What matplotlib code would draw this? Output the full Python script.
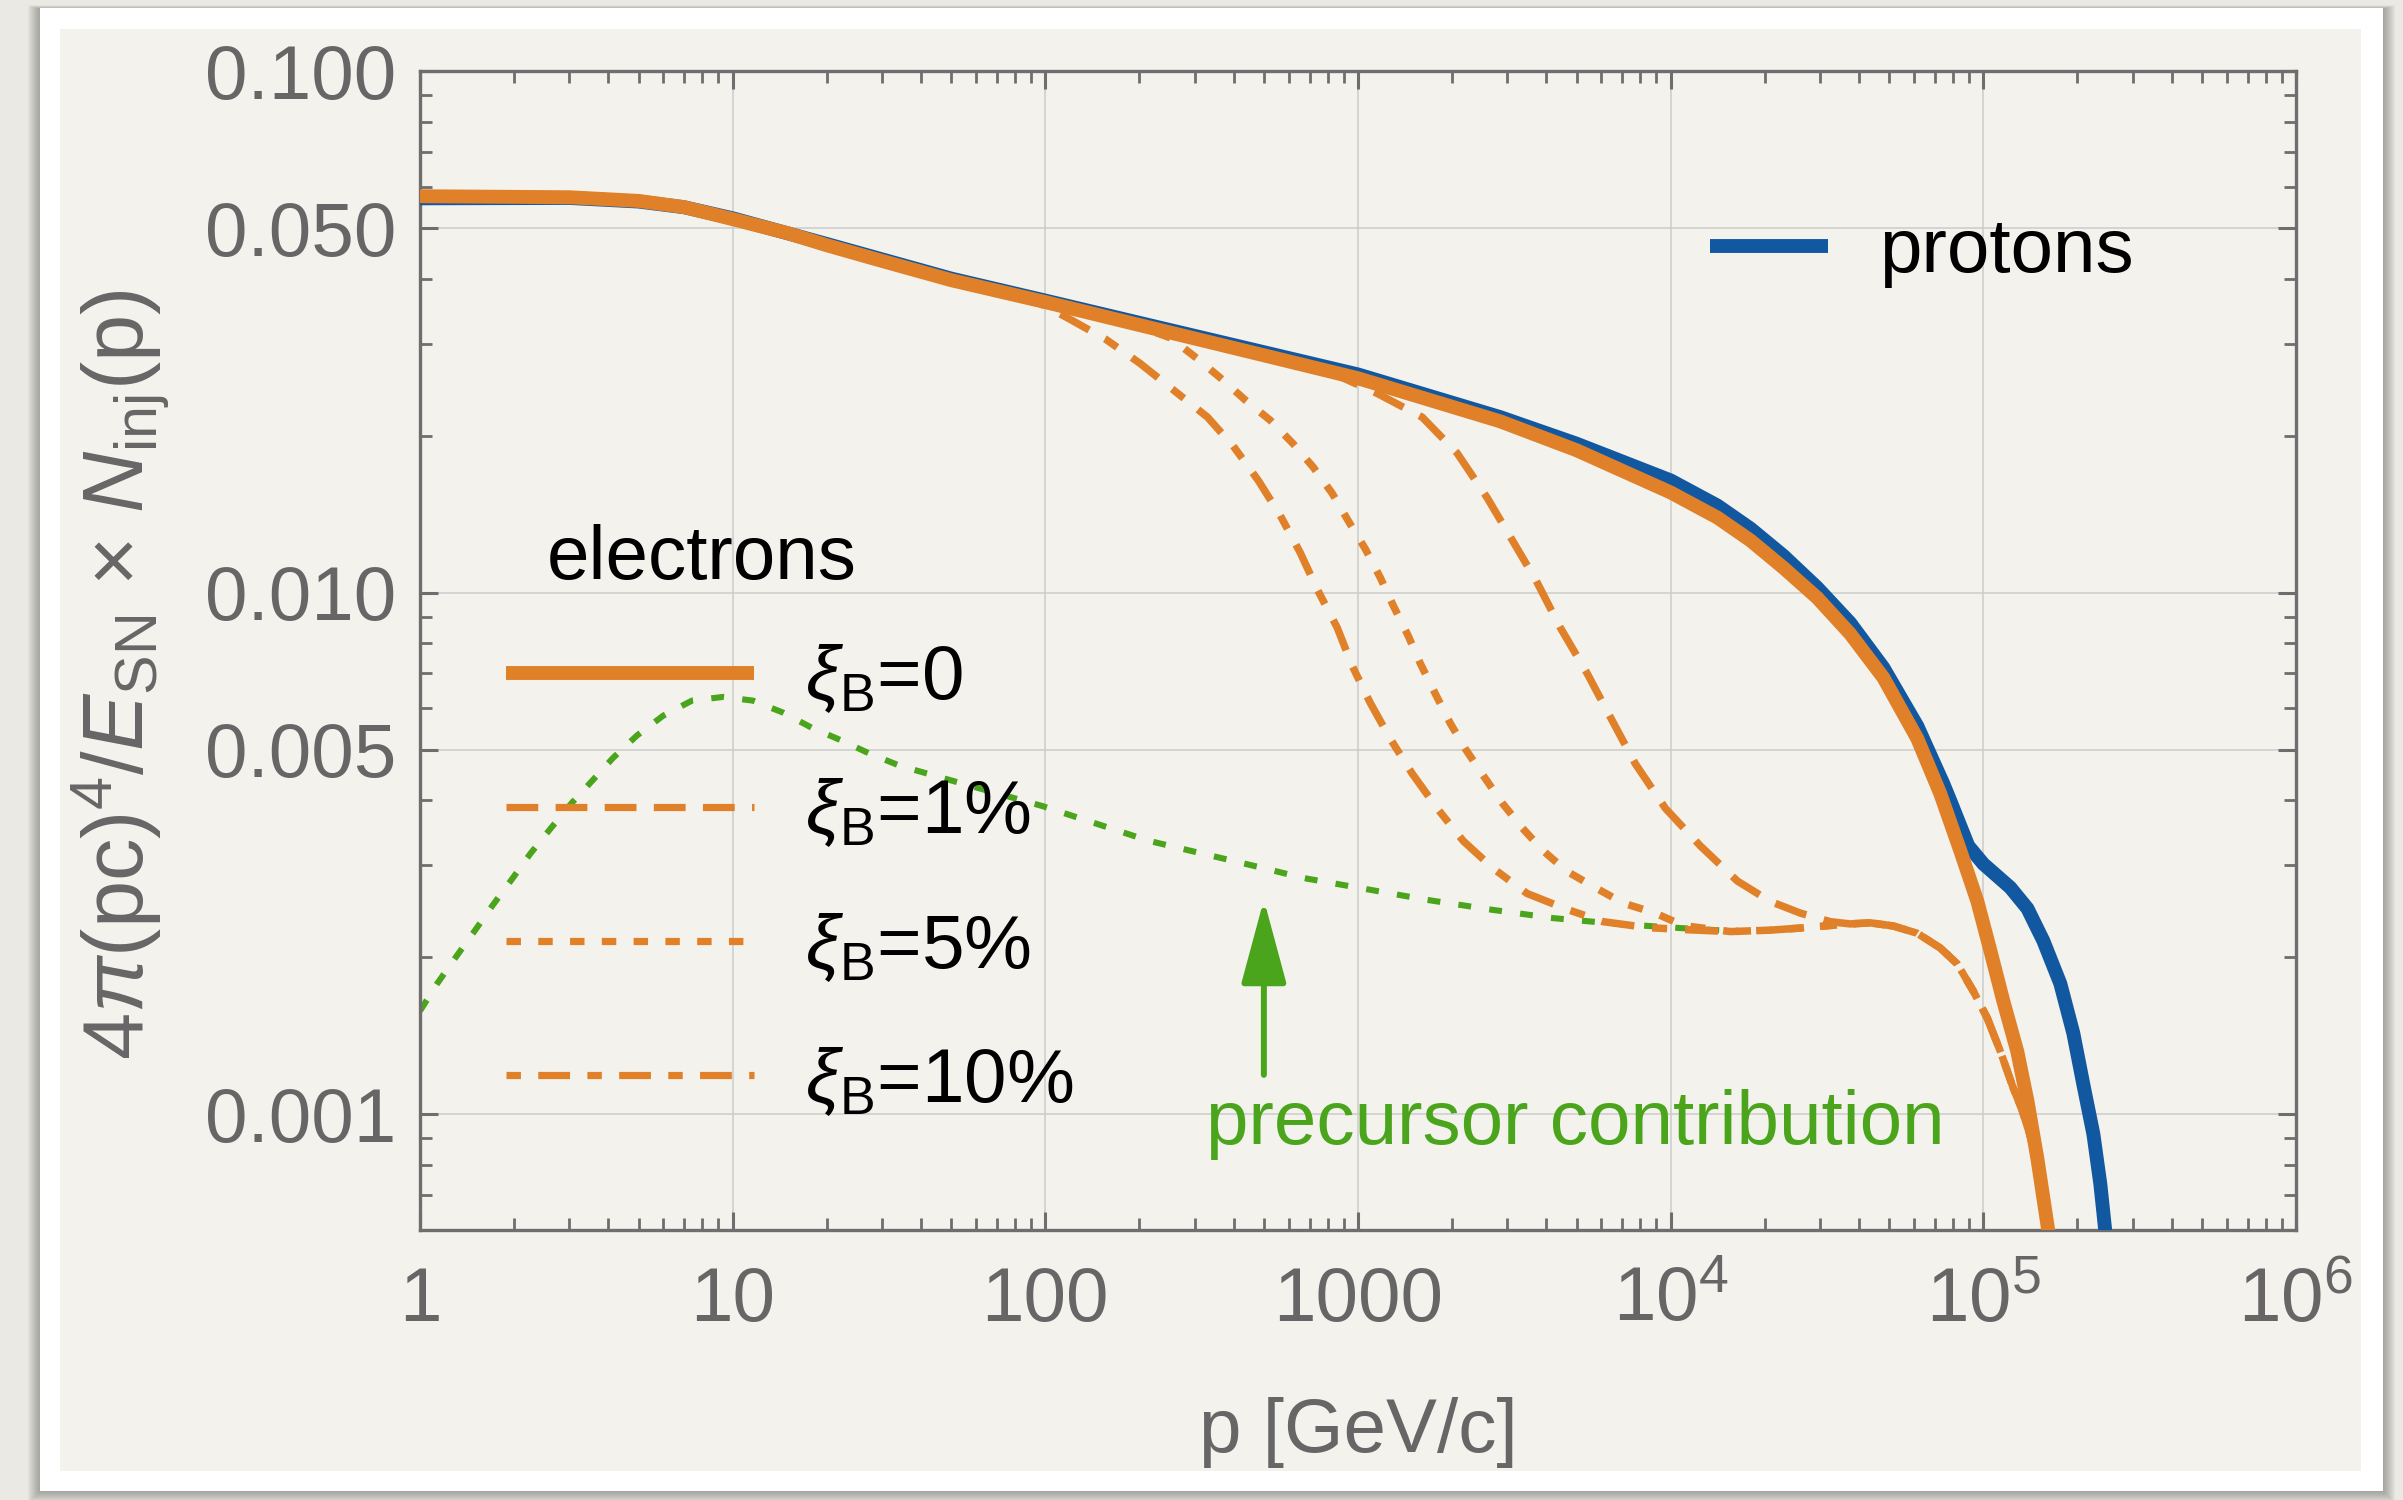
import matplotlib
matplotlib.use("Agg")
import matplotlib.pyplot as plt
from matplotlib.lines import Line2D
from matplotlib.patches import Rectangle, FancyArrowPatch, ArrowStyle
from matplotlib.ticker import LogLocator, NullFormatter, FixedLocator

plt.rcParams['font.family'] = ['Liberation Sans', 'DejaVu Sans']
plt.rcParams['mathtext.fontset'] = 'custom'
plt.rcParams['mathtext.rm'] = 'Liberation Sans'
plt.rcParams['mathtext.it'] = 'Liberation Sans:italic'
plt.rcParams['mathtext.bf'] = 'Liberation Sans:bold'

# ---------------- data ----------------
# protons
p_proton = [1, 3, 5, 7, 10, 20, 50, 100, 200, 500, 1000, 2850, 5000, 1.0e4, 1.41e4,
            1.80e4, 2.29e4, 2.94e4, 3.75e4, 4.79e4, 6.15e4, 7.45e4, 7.84e4, 8.95e4,
            1.0e5, 1.22e5, 1.384e5, 1.556e5, 1.763e5, 1.94e5, 2.089e5, 2.249e5,
            2.367e5, 2.456e5, 2.55e5]
n_proton = [0.0570, 0.0571, 0.0562, 0.0548, 0.0522, 0.0466, 0.0400, 0.0363, 0.0329,
            0.0289, 0.0262, 0.0217, 0.0193, 0.01641, 0.01469, 0.01327, 0.01178,
            0.01023, 0.00875, 0.00718, 0.00555, 0.00430, 0.00399, 0.00327, 0.00302,
            0.00272, 0.00248, 0.00215, 0.00178, 0.00143, 0.00114, 0.000916,
            0.000735, 0.000596, 0.000479]

# electrons, xi_B = 0
p_xi0 = [1, 3, 5, 7, 10, 15, 20, 30, 50, 100, 200, 500, 1000, 2850, 5000, 1.0e4,
         1.41e4, 1.80e4, 2.29e4, 2.94e4, 3.75e4, 4.79e4, 6.15e4, 7.28e4, 8.44e4,
         9.57e4, 1.053e5, 1.158e5, 1.284e5, 1.384e5, 1.49e5, 1.615e5, 1.70e5]
n_xi0 = [0.05754, 0.05728, 0.05636, 0.05483, 0.05200, 0.04887, 0.04634, 0.04325,
         0.03972, 0.03606, 0.03258, 0.02851, 0.02576, 0.02130, 0.01875, 0.01556,
         0.01393, 0.01259, 0.01117, 0.00978, 0.00834, 0.00687, 0.00525, 0.00412,
         0.00320, 0.00256, 0.00206, 0.00165, 0.00132, 0.00106, 0.000820, 0.000596,
         0.000479]

# electrons, xi_B = 1 %
p_xi1 = [800, 1151, 1604, 2077, 2589, 3068, 3715, 4436, 5407, 6506, 7706, 9617,
         12440, 16340, 20800, 26000, 32400]
n_xi1 = [0.0266, 0.0241, 0.0217, 0.0185, 0.0152, 0.0128, 0.01054, 0.00857, 0.00700,
         0.00568, 0.00470, 0.00386, 0.00327, 0.00280, 0.00256, 0.00243, 0.00234]

# electrons, xi_B = 5 %
p_xi5 = [180, 251, 306, 363, 436, 524, 620, 719, 827, 930, 1055, 1178, 1297, 1448,
         1583, 1767, 1972, 2203, 2515, 2893, 3351, 3910, 4667, 5738, 7050, 8925,
         10970, 15500, 20800, 26000, 32400]
n_xi5 = [0.0331, 0.0308, 0.0281, 0.0258, 0.0234, 0.0214, 0.0193, 0.0174, 0.0155,
         0.01374, 0.01213, 0.01069, 0.00944, 0.00826, 0.00731, 0.00640, 0.00562,
         0.00502, 0.00446, 0.00395, 0.00354, 0.00320, 0.00292, 0.00272, 0.00254,
         0.00243, 0.00230, 0.00224, 0.002254, 0.002275, 0.002301]

# electrons, xi_B = 10 %
p_xi10 = [90, 117, 156, 201, 256, 330, 399, 480, 564, 653, 741, 858, 958, 1094, 1267,
          1490, 1791, 2172, 2707, 3474, 4667, 6085, 8410, 10970, 15500, 20800, 26000,
          32400]
n_xi10 = [0.0366, 0.0337, 0.0306, 0.0275, 0.0245, 0.0217, 0.0191, 0.0164, 0.01406,
          0.01194, 0.01014, 0.00857, 0.00724, 0.00615, 0.00525, 0.00450, 0.00386,
          0.00334, 0.00296, 0.00265, 0.00247, 0.00234, 0.00228, 0.00226, 0.00224,
          0.002254, 0.002275, 0.002301]

# common high-energy part of the xi_B > 0 spectra
p_tail = [3.75e4, 4.35e4, 5.15e4, 6.15e4, 7.28e4, 8.26e4, 9.29e4, 1.03e5, 1.133e5,
          1.247e5, 1.33e5, 1.49e5, 1.615e5, 1.70e5]
n_tail = [0.002317, 0.002328, 0.002296, 0.002223, 0.002084, 0.001941, 0.001722,
          0.001528, 0.001321, 0.001122, 0.00102, 0.000820, 0.000596, 0.000479]

# precursor contribution
p_pre = [1, 1.133, 1.294, 1.477, 1.70, 1.97, 2.25, 2.61, 3.06, 3.55, 4.14, 4.94, 5.99,
         7.41, 9.31, 11.6, 14.5, 17.9, 22.4, 27.5, 34.3, 50, 97.7, 215, 497, 668, 1055,
         1665, 2687, 4210, 6750, 10730, 15000]
n_pre = [0.001578, 0.001778, 0.001991, 0.002223, 0.002506, 0.002825, 0.003155,
         0.003524, 0.003954, 0.004355, 0.004819, 0.005321, 0.005808, 0.006209,
         0.006310, 0.006209, 0.005888, 0.005508, 0.005200, 0.004909, 0.004656,
         0.004365, 0.003899, 0.003342, 0.002965, 0.002838, 0.002704, 0.002576,
         0.002466, 0.002377, 0.002317, 0.002275, 0.002249]

# arrow pointing at the precursor curve
arrow_p = 500
arrow_from = 0.00119
arrow_to = 0.00258

x_ticks = [1, 10, 100, 1000, 1e4, 1e5, 1e6]
x_ticklabels = ['1', '10', '100', '1000', r'$10^{4}$', r'$10^{5}$', r'$10^{6}$']
y_ticks = [0.001, 0.005, 0.01, 0.05, 0.1]
y_ticklabels = ['0.001', '0.005', '0.010', '0.050', '0.100']
legend_labels = [r'$\xi_{\mathrm{B}}$=0', r'$\xi_{\mathrm{B}}$=1%',
                 r'$\xi_{\mathrm{B}}$=5%', r'$\xi_{\mathrm{B}}$=10%']

# ---------------- style ----------------
ORANGE = '#e0812a'
BLUE = '#1258a1'
GREEN = '#4ba51c'
AXGRAY = '#6e6e6e'
LABGRAY = '#666666'
FS = 55

W, H = 2403, 1500
fig = plt.figure(figsize=(W / 100, H / 100), dpi=100)
fig.patch.set_facecolor('#ebe9e3')


def frect(x0, y0, x1, y1, **kw):
    """Rectangle given in pixel coordinates measured from the top-left corner."""
    return Rectangle((x0 / W, 1 - y1 / H), (x1 - x0) / W, (y1 - y0) / H,
                     transform=fig.transFigure, zorder=-10, **kw)


# soft shadow around the card
for k in range(1, 13):
    fig.add_artist(frect(40 - k, 9 - 0.3 * k, 2383 + k, 1491 + k,
                         facecolor='#505050', edgecolor='none', alpha=0.045))
fig.add_artist(frect(40, 8, 2383, 1491, facecolor='white', edgecolor='none'))
fig.add_artist(frect(60, 29, 2361, 1471, facecolor='#f4f2ed', edgecolor='none'))

ax = fig.add_axes([420 / W, 1 - 1230 / H, 1876 / W, 1159 / H])
ax.set_facecolor('none')
ax.set_xscale('log')
ax.set_yscale('log')
ax.set_xlim(1, 1e6)
ax.set_ylim(0.0006, 0.1)

dash = (0, (4.4, 2.4))
dot = (0, (2.0, 2.4))
dashdot = (0, (2.0, 2.4, 4.4, 2.4))

ax.plot(p_pre, n_pre, color=GREEN, lw=4.4, ls=(0, (2.1, 3.0)), zorder=2)
ax.plot(p_proton, n_proton, color=BLUE, lw=10, solid_capstyle='butt',
        solid_joinstyle='round', zorder=3)
ax.plot(p_xi0, n_xi0, color=ORANGE, lw=10, solid_capstyle='butt',
        solid_joinstyle='round', zorder=4)
ax.plot(p_xi1 + p_tail, n_xi1 + n_tail, color=ORANGE, lw=5.4, ls=dash, zorder=5)
ax.plot(p_xi5 + p_tail, n_xi5 + n_tail, color=ORANGE, lw=5.4, ls=dot, zorder=5)
ax.plot(p_xi10 + p_tail, n_xi10 + n_tail, color=ORANGE, lw=5.4, ls=dashdot, zorder=5)

# axes frame, ticks and grid
ax.xaxis.set_major_locator(FixedLocator(x_ticks))
ax.set_xticklabels(x_ticklabels)
ax.xaxis.set_minor_locator(LogLocator(base=10, subs=range(2, 10), numticks=50))
ax.xaxis.set_minor_formatter(NullFormatter())
ax.yaxis.set_major_locator(FixedLocator(y_ticks))
ax.set_yticklabels(y_ticklabels)
ax.yaxis.set_minor_locator(LogLocator(base=10, subs=range(2, 10), numticks=50))
ax.yaxis.set_minor_formatter(NullFormatter())

ax.grid(True, which='major', color='#cbcbcb', lw=1.1)
ax.set_axisbelow(True)
ax.tick_params(which='both', direction='in', top=True, right=True, color=AXGRAY,
               labelcolor=LABGRAY, labelsize=FS)
ax.tick_params(which='major', length=13, width=2.2)
ax.tick_params(which='minor', length=8.5, width=2.0)
ax.tick_params(axis='x', which='major', pad=26)
ax.tick_params(axis='y', which='major', pad=17)
for s in ax.spines.values():
    s.set_color(AXGRAY)
    s.set_linewidth(2.4)

ax.set_xlabel('p [GeV/c]', fontsize=FS, color=LABGRAY)
ax.xaxis.set_label_coords(0.5, -0.175)
ax.xaxis.label.set_va('center')
ax.set_ylabel(r'$4\pi\mathrm{(pc)}^{4}/E_{\mathrm{SN}}$ × $N_{\mathrm{inj}}\mathrm{(p)}$',
              fontsize=61, color=LABGRAY)
ax.yaxis.set_label_coords(-0.160, 0.479)
ax.yaxis.label.set_va('center')

# legends
h_xi0 = Line2D([], [], color=ORANGE, lw=10, solid_capstyle='butt')
h_xi1 = Line2D([], [], color=ORANGE, lw=5.2, ls=dash)
h_xi5 = Line2D([], [], color=ORANGE, lw=5.2, ls=dot)
h_xi10 = Line2D([], [], color=ORANGE, lw=5.2, ls=dashdot)
leg_e = ax.legend([h_xi0, h_xi1, h_xi5, h_xi10], legend_labels, loc='center left',
                  bbox_to_anchor=(0.0458, 0.302), frameon=False, fontsize=FS,
                  handlelength=3.25, handletextpad=0.66, labelspacing=0.8,
                  borderpad=0, borderaxespad=0)
ax.add_artist(leg_e)
h_p = Line2D([], [], color=BLUE, lw=10, solid_capstyle='butt')
ax.legend([h_p], ['protons'], loc='center left', bbox_to_anchor=(0.6876, 0.843),
          frameon=False, fontsize=FS, handlelength=1.55, handletextpad=0.66,
          borderpad=0, borderaxespad=0)

ax.text(0.0677, 0.5617, 'electrons', transform=ax.transAxes, fontsize=FS,
        ha='left', va='baseline', color='black')

# precursor annotation
ax.text(327, 0.000876, 'precursor contribution', fontsize=FS, color=GREEN,
        ha='left', va='baseline')
arrow = FancyArrowPatch((arrow_p, arrow_from), (arrow_p, arrow_to),
                        arrowstyle=ArrowStyle('-|>', head_length=52, head_width=14),
                        mutation_scale=1, lw=4.3, color=GREEN,
                        shrinkA=0, shrinkB=0, zorder=6)
ax.add_patch(arrow)

fig.savefig('out.png', dpi=100, facecolor=fig.get_facecolor())
